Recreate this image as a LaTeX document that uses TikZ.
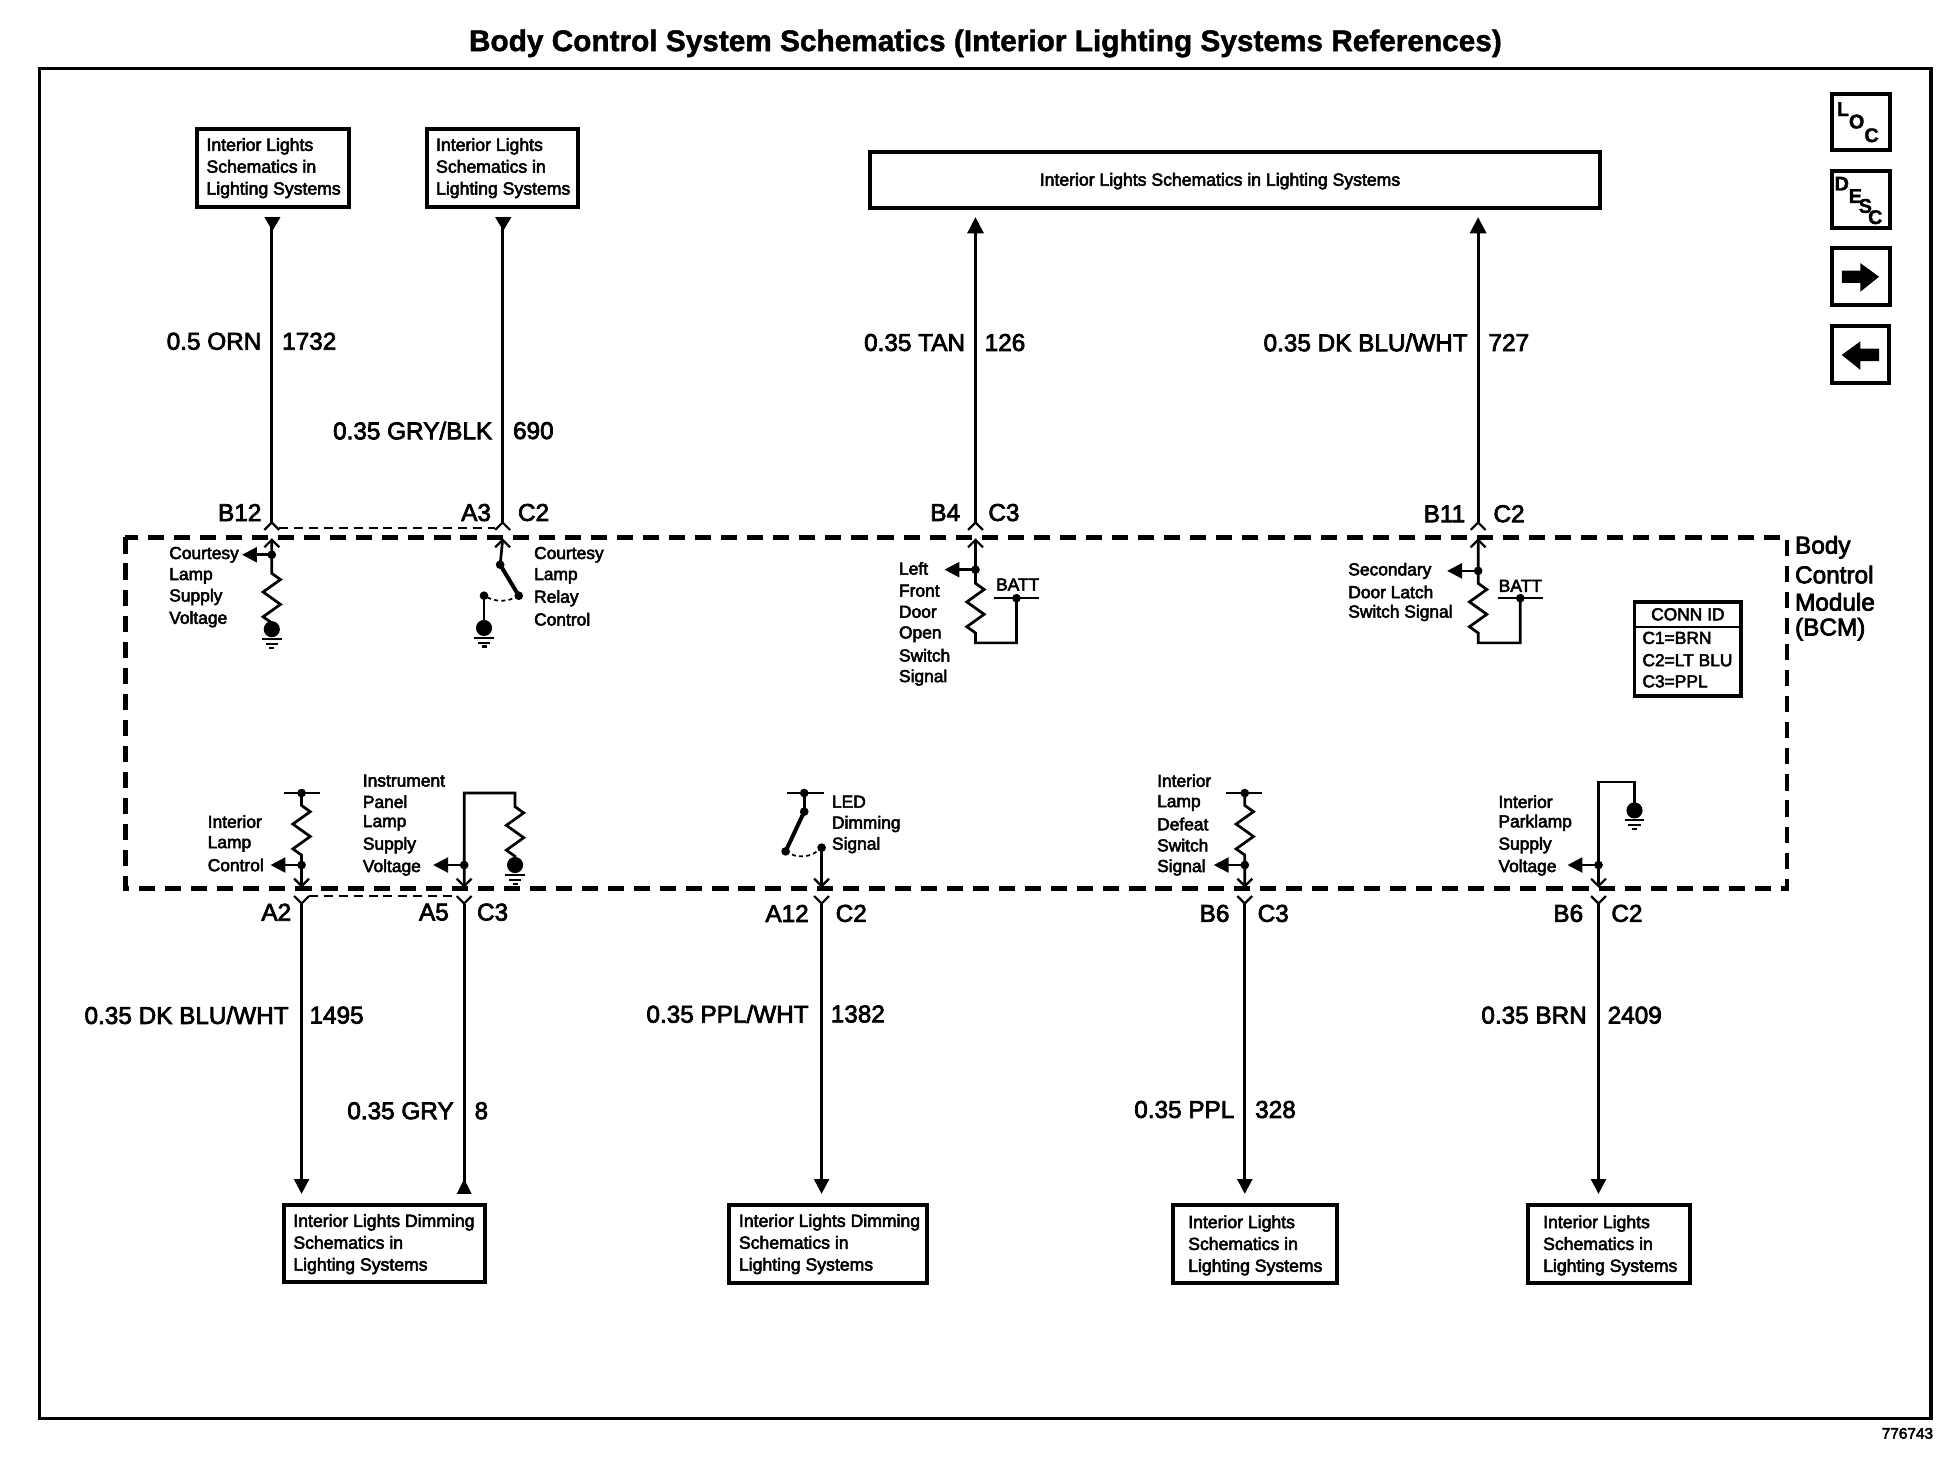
\documentclass[tikz,border=0pt]{standalone}
\usepackage{fontspec}
\setmainfont{Liberation Sans}
\newfontfamily\lab[FakeBold=3]{Liberation Sans}
\newfontfamily\ttl[FakeBold=1.5]{Liberation Sans Bold}
\usetikzlibrary{arrows.meta,calc}
\tikzset{
  frameline/.style={draw=black,line width=1.4pt},
  wire/.style={draw=black,line width=1.1pt,line cap=butt,line join=miter},
  thick wire/.style={draw=black,line width=1.6pt},
  chev/.style={draw=black,line width=0.9pt},
  bcm/.style={draw=black,line width=1.8pt,dash pattern=on 6.5pt off 4pt},
  shorted/.style={draw=black,line width=0.7pt,dash pattern=on 3.6pt off 2.4pt},
  arcdash/.style={draw=black,line width=0.7pt,dash pattern=on 1.6pt off 1.3pt},
  refbox/.style={draw=black,line width=1.6pt,fill=white},
  big/.style={font=\lab\fontsize{9.8}{11}\selectfont,inner sep=0pt},
  small/.style={font=\lab\fontsize{7}{8}\selectfont,inner sep=0pt,anchor=west},
  boxtext/.style={font=\lab\fontsize{7.1}{8.8}\selectfont,inner sep=0pt,anchor=west,align=left},
  iconletter/.style={font=\ttl\fontsize{8}{9}\selectfont,inner sep=0pt},
  into/.style={-{Triangle[length=6pt,width=6pt]}},
  dotf/.style={fill=black,draw=none},
}
\newcommand{\zigp}{-- ++(7,5) -- ++(-14,10) -- ++(14,10) -- ++(-14,10) -- ++(7,5)}
\newcommand{\topconn}[2]{%
  \coordinate (#2o) at (#1,421);
  \coordinate (#2i) at (#1,435);
  \draw[chev] ($(#2o)+(-6,6)$) -- (#2o) -- ($(#2o)+(6,6)$);
  \draw[chev] ($(#2i)+(-6,6)$) -- (#2i) -- ($(#2i)+(6,6)$);
}
\newcommand{\botconn}[2]{%
  \coordinate (#2o) at (#1,728);
  \coordinate (#2i) at (#1,714);
  \draw[chev] ($(#2o)+(-6,-6)$) -- (#2o) -- ($(#2o)+(6,-6)$);
  \draw[chev] ($(#2i)+(-6,-6)$) -- (#2i) -- ($(#2i)+(6,-6)$);
}
\newcommand{\jdot}[1]{\fill[dotf] (#1) circle (3.5);}
\newcommand{\gnd}[1]{%
  \fill[dotf] (#1) circle (6.5);
  \draw[chev] ($(#1)+(-8,8)$) -- ($(#1)+(8,8)$);
  \draw[chev] ($(#1)+(-5,12)$) -- ($(#1)+(5,12)$);
  \draw[chev] ($(#1)+(-2,15)$) -- ($(#1)+(2,15)$);
}
\newcommand{\tap}[2]{%
  \jdot{#1}
  \draw[wire,-{Triangle[length=6pt,width=6pt]}] (#1) -- (#2);
}
\begin{document}
\begin{tikzpicture}[x=0.5pt,y=-0.5pt]
\useasboundingbox (0,0) rectangle (1568,1186);
\fill[white] (0,0) rectangle (1568,1186);

\node[font=\ttl\fontsize{12}{14}\selectfont,inner sep=0pt] (title) at (794,35)
  {Body Control System Schematics (Interior Lighting Systems References)};
\draw[frameline] (32,55) rectangle (1556,1143);
\node[font=\lab\fontsize{6.2}{7}\selectfont,inner sep=0pt,anchor=east] (docno) at (1558,1155) {776743};

% icons
\draw[refbox] (1476,76) rectangle (1523,121);
\node[iconletter] (l1) at (1485,88) {L};
\node[iconletter] (l2) at (1496,98) {O};
\node[iconletter] (l3) at (1508,109) {C};
\draw[refbox] (1476,138) rectangle (1523,184);
\node[iconletter] (d1) at (1484,148) {D};
\node[iconletter] (d2) at (1495,158) {E};
\node[iconletter] (d3) at (1503,166) {S};
\node[iconletter] (d4) at (1511,175) {C};
\draw[refbox] (1476,200) rectangle (1523,246);
\fill (1484,218) -- (1499,218) -- (1499,212) -- (1514,223) -- (1499,235) -- (1499,228) -- (1484,228) -- cycle;
\draw[refbox] (1476,263) rectangle (1522,309);
\fill (1514,281) -- (1499,281) -- (1499,275) -- (1484,286) -- (1499,298) -- (1499,291) -- (1514,291) -- cycle;

% BCM outline
\draw[bcm] (101,433) rectangle (1440,716);
\node[font=\lab\fontsize{9.8}{11}\selectfont,inner sep=0pt,anchor=west] (bcm1) at (1446,441) {Body};
\node[font=\lab\fontsize{9.8}{11}\selectfont,inner sep=0pt,anchor=west] (bcm2) at (1446,463) {Control};
\node[font=\lab\fontsize{9.8}{11}\selectfont,inner sep=0pt,anchor=west] (bcm3) at (1446,485) {Module};
\node[font=\lab\fontsize{9.8}{11}\selectfont,inner sep=0pt,anchor=west] (bcm4) at (1446,507) {(BCM)};

% reference boxes
\node[refbox,minimum width=61pt,minimum height=31.5pt,inner sep=0pt] (tb1) at (220,135.5) {};
\node[boxtext] at (166,135.5) {Interior Lights\\Schematics in\\Lighting Systems};
\node[refbox,minimum width=61pt,minimum height=31.5pt,inner sep=0pt] (tb2) at (405,135.5) {};
\node[boxtext] at (351,135.5) {Interior Lights\\Schematics in\\Lighting Systems};
\node[refbox,minimum width=294pt,minimum height=22.5pt,inner sep=0pt] (tb3) at (995,145) {};
\node[font=\lab\fontsize{7.1}{8}\selectfont,inner sep=0pt] (tb3t) at (983,146) {Interior Lights Schematics in Lighting Systems};

\node[refbox,minimum width=81pt,minimum height=31pt,inner sep=0pt] (bb1) at (310,1002) {};
\node[boxtext] at (236,1002.5) {Interior Lights Dimming\\Schematics in\\Lighting Systems};
\node[refbox,minimum width=80pt,minimum height=31.5pt,inner sep=0pt] (bb2) at (667,1002.5) {};
\node[boxtext] at (595,1002.5) {Interior Lights Dimming\\Schematics in\\Lighting Systems};
\node[refbox,minimum width=66pt,minimum height=31.5pt,inner sep=0pt] (bb3) at (1011,1002.5) {};
\node[boxtext] at (957,1003.5) {Interior Lights\\Schematics in\\Lighting Systems};
\node[refbox,minimum width=65.5pt,minimum height=31.5pt,inner sep=0pt] (bb4) at (1296.5,1002.5) {};
\node[boxtext] at (1243,1003.5) {Interior Lights\\Schematics in\\Lighting Systems};

% CONN ID
\node[refbox,minimum width=43pt,minimum height=38pt,inner sep=0pt] (conn) at (1360,523) {};
\draw[chev] (conn.north west |- 0,505) -- (conn.north east |- 0,505);
\node[small,anchor=center] (c0) at (1360,495) {CONN ID};
\node[small] (c1) at (1323,514) {C1=BRN};
\node[small] (c2) at (1323,532) {C2=LT BLU};
\node[small] (c3) at (1323,549) {C3=PPL};

% connectors
\topconn{219}{a}
\topconn{405}{b}
\topconn{786}{c}
\topconn{1191}{d}
\botconn{243}{e}
\botconn{374}{f}
\botconn{662}{g}
\botconn{1003}{h}
\botconn{1288}{i}
\draw[shorted] (ao) ++(6,4.5) -- ($(bo)+(-6,4.5)$);
\draw[shorted] (eo) ++(6,-6) -- ($(fo)+(-6,-6)$);

% main wires
\coordinate (at) at (219,175); \coordinate (bt) at (405,175);
\coordinate (ct) at (786,175); \coordinate (dt) at (1191,175);
\draw[wire] (at) -- (ao);
\draw[wire] (bt) -- (bo);
\fill (213,175) -- (226,175) -- (219.5,186) -- cycle;
\fill (399,175) -- (412,175) -- (405.5,186) -- cycle;
\draw[wire,{Triangle[length=6.5pt,width=6.5pt]}-] (ct) -- (co);
\draw[wire,{Triangle[length=6.5pt,width=6.5pt]}-] (dt) -- (do);
\coordinate (eb) at (243,962); \coordinate (fb) at (374,962);
\coordinate (gb) at (662,962); \coordinate (hb) at (1003,962);
\coordinate (ib) at (1288,962);
\draw[wire,into] (eo) -- (eb);
\draw[wire] (fo) -- (fb);
\fill (368,962) -- (380,962) -- (374,950) -- cycle;
\draw[wire,into] (go) -- (gb);
\draw[wire,into] (ho) -- (hb);
\draw[wire,into] (io) -- (ib);

% wire labels
\newcommand{\wlabel}[5]{%
  \node[big,anchor=east] (#1g) at (#2-8,#3) {#4};
  \node[big,anchor=west] (#1n) at (#2+8,#3) {#5};
}
\wlabel{a}{219}{275}{0.5 ORN}{1732}
\wlabel{b}{405}{347}{0.35 GRY/BLK}{690}
\node[big,anchor=east] (cg) at (778,276) {0.35 TAN};
\node[big,anchor=west] (cn) at (793,276) {126};
\wlabel{d}{1191}{276}{0.35 DK BLU/WHT}{727}
\node[big,anchor=east] (eg) at (233,818) {0.35 DK BLU/WHT};
\node[big,anchor=west] (en) at (249,818) {1495};
\wlabel{f}{374}{895}{0.35 GRY}{8}
\node[big,anchor=east] (gg) at (652,817) {0.35 PPL/WHT};
\node[big,anchor=west] (gn) at (669,817) {1382};
\wlabel{h}{1003}{894}{0.35 PPL}{328}
\node[big,anchor=east] (ig) at (1279,818) {0.35 BRN};
\node[big,anchor=west] (in) at (1295,818) {2409};

% pin labels
\node[big,anchor=east] (pa) at (211,413) {B12};
\node[big,anchor=east] (pb) at (396,413) {A3};
\node[big,anchor=west] (qb) at (417,413) {C2};
\node[big,anchor=east] (pc) at (774,413) {B4};
\node[big,anchor=west] (qc) at (796,413) {C3};
\node[big,anchor=east] (pd) at (1181,414) {B11};
\node[big,anchor=west] (qd) at (1203,414) {C2};
\node[big,anchor=east] (pe) at (235,735) {A2};
\node[big,anchor=east] (pf) at (362,735) {A5};
\node[big,anchor=west] (qf) at (384,735) {C3};
\node[big,anchor=east] (pg) at (652,736) {A12};
\node[big,anchor=west] (qg) at (673,736) {C2};
\node[big,anchor=east] (ph) at (991,736) {B6};
\node[big,anchor=west] (qh) at (1013,736) {C3};
\node[big,anchor=east] (pi) at (1276,736) {B6};
\node[big,anchor=west] (qi) at (1298,736) {C2};

% --- Courtesy Lamp Supply Voltage
\coordinate (a1) at (219,447); \coordinate (a2) at (219,462);
\coordinate (ag) at (219,507); \coordinate (at1) at (195,447);
\draw[wire] (ai) -- (a2) \zigp -- (ag);
\tap{a1}{at1}
\gnd{ag}
\foreach \t/\y in {Courtesy/447,Lamp/464,Supply/481,Voltage/499}
  \node[small] at (136,\y) {\t};

% --- Courtesy Lamp Relay Control
\coordinate (b1) at (403,455); \coordinate (b2) at (418,480);
\coordinate (b3) at (390,480); \coordinate (bg) at (390,506);
\draw[wire] (bi) -- (b1);
\draw[thick wire] (b1) -- (b2);
\draw[arcdash] (b2) to[bend left=30] (b3);
\draw[wire] (b3) -- (bg);
\jdot{b1}\jdot{b2}\jdot{b3}
\gnd{bg}
\foreach \t/\y in {Courtesy/447,Lamp/464,Relay/482,Control/499}
  \node[small] at (430,\y) {\t};

% --- Left Front Door Open Switch Signal
\coordinate (c1) at (786,459); \coordinate (c2) at (786,470);
\coordinate (c3) at (786,518); \coordinate (c4) at (819,518);
\coordinate (c5) at (819,482); \coordinate (ct1) at (761,459);
\draw[wire] (ci) -- (c2) \zigp -- (c3) -- (c4) -- (c5);
\tap{c1}{ct1}
\jdot{c5}
\draw[chev] (801,482) -- (837,482);
\node[small,anchor=center] (cb) at (820,471) {BATT};
\foreach \t/\y in {Left/458,Front/476,Door/493,Open/511,Switch/528,Signal/546}
  \node[small] at (724,\y) {\t};

% --- Secondary Door Latch Switch Signal
\coordinate (d1) at (1191,460); \coordinate (d2) at (1191,470);
\coordinate (d3) at (1191,518); \coordinate (d4) at (1225,518);
\coordinate (d5) at (1225,482); \coordinate (dt1) at (1166,460);
\draw[wire] (di) -- (d2) \zigp -- (d3) -- (d4) -- (d5);
\tap{d1}{dt1}
\jdot{d5}
\draw[chev] (1207,482) -- (1243,482);
\node[small,anchor=center] (db) at (1225,472) {BATT};
\foreach \t/\y in {Secondary/460,Door Latch/477,Switch Signal/494}
  \node[small] at (1086,\y) {\t};

% --- Interior Lamp Control
\coordinate (e1) at (243,639); \coordinate (e2) at (243,649);
\coordinate (e3) at (243,697); \coordinate (et1) at (218,697);
\draw[chev] (229,639) -- (258,639);
\draw[wire] (e1) -- (e2) \zigp -- (ei);
\jdot{e1}
\tap{e3}{et1}
\foreach \t/\y in {Interior/662,Lamp/680,Control/697}
  \node[small] at (167,\y) {\t};

% --- Instrument Panel Lamp Supply Voltage
\coordinate (f1) at (374,639); \coordinate (f2) at (415,639);
\coordinate (f3) at (415,650); \coordinate (f4) at (415,697);
\coordinate (f5) at (374,697); \coordinate (ft1) at (349,697);
\draw[wire] (fi) -- (f1) -- (f2) -- (f3) \zigp -- (f4);
\tap{f5}{ft1}
\gnd{f4}
\foreach \t/\y in {Instrument/629,Panel/646,Lamp/663,Supply/681,Voltage/699}
  \node[small] at (292,\y) {\t};

% --- LED Dimming Signal
\coordinate (g1) at (648,639); \coordinate (g2) at (648,654);
\coordinate (g3) at (633,686); \coordinate (g4) at (662,683);
\draw[chev] (634,639) -- (664,639);
\draw[wire] (g1) -- (g2);
\draw[thick wire] (g2) -- (g3);
\draw[arcdash] (g3) to[bend right=40] (g4);
\draw[wire] (g4) -- (gi);
\jdot{g1}\jdot{g2}\jdot{g3}\jdot{g4}
\foreach \t/\y in {LED/646,Dimming/664,Signal/681}
  \node[small] at (670,\y) {\t};

% --- Interior Lamp Defeat Switch Signal
\coordinate (h1) at (1003,639); \coordinate (h2) at (1003,649);
\coordinate (h3) at (1003,697); \coordinate (ht1) at (978,697);
\draw[chev] (988,639) -- (1017,639);
\draw[wire] (h1) -- (h2) \zigp -- (hi);
\jdot{h1}
\tap{h3}{ht1}
\foreach \t/\y in {Interior/629,Lamp/647,Defeat/664,Switch/681,Signal/699}
  \node[small] at (932,\y) {\t};

% --- Interior Parklamp Supply Voltage
\coordinate (i1) at (1288,630); \coordinate (i2) at (1317,630);
\coordinate (i3) at (1317,653); \coordinate (i4) at (1288,697);
\coordinate (it1) at (1263,697);
\draw[wire] (ii) -- (i1) -- (i2) -- (i3);
\tap{i4}{it1}
\gnd{i3}
\foreach \t/\y in {Interior/646,Parklamp/663,Supply/681,Voltage/699}
  \node[small] at (1207,\y) {\t};
\end{tikzpicture}
\end{document}
